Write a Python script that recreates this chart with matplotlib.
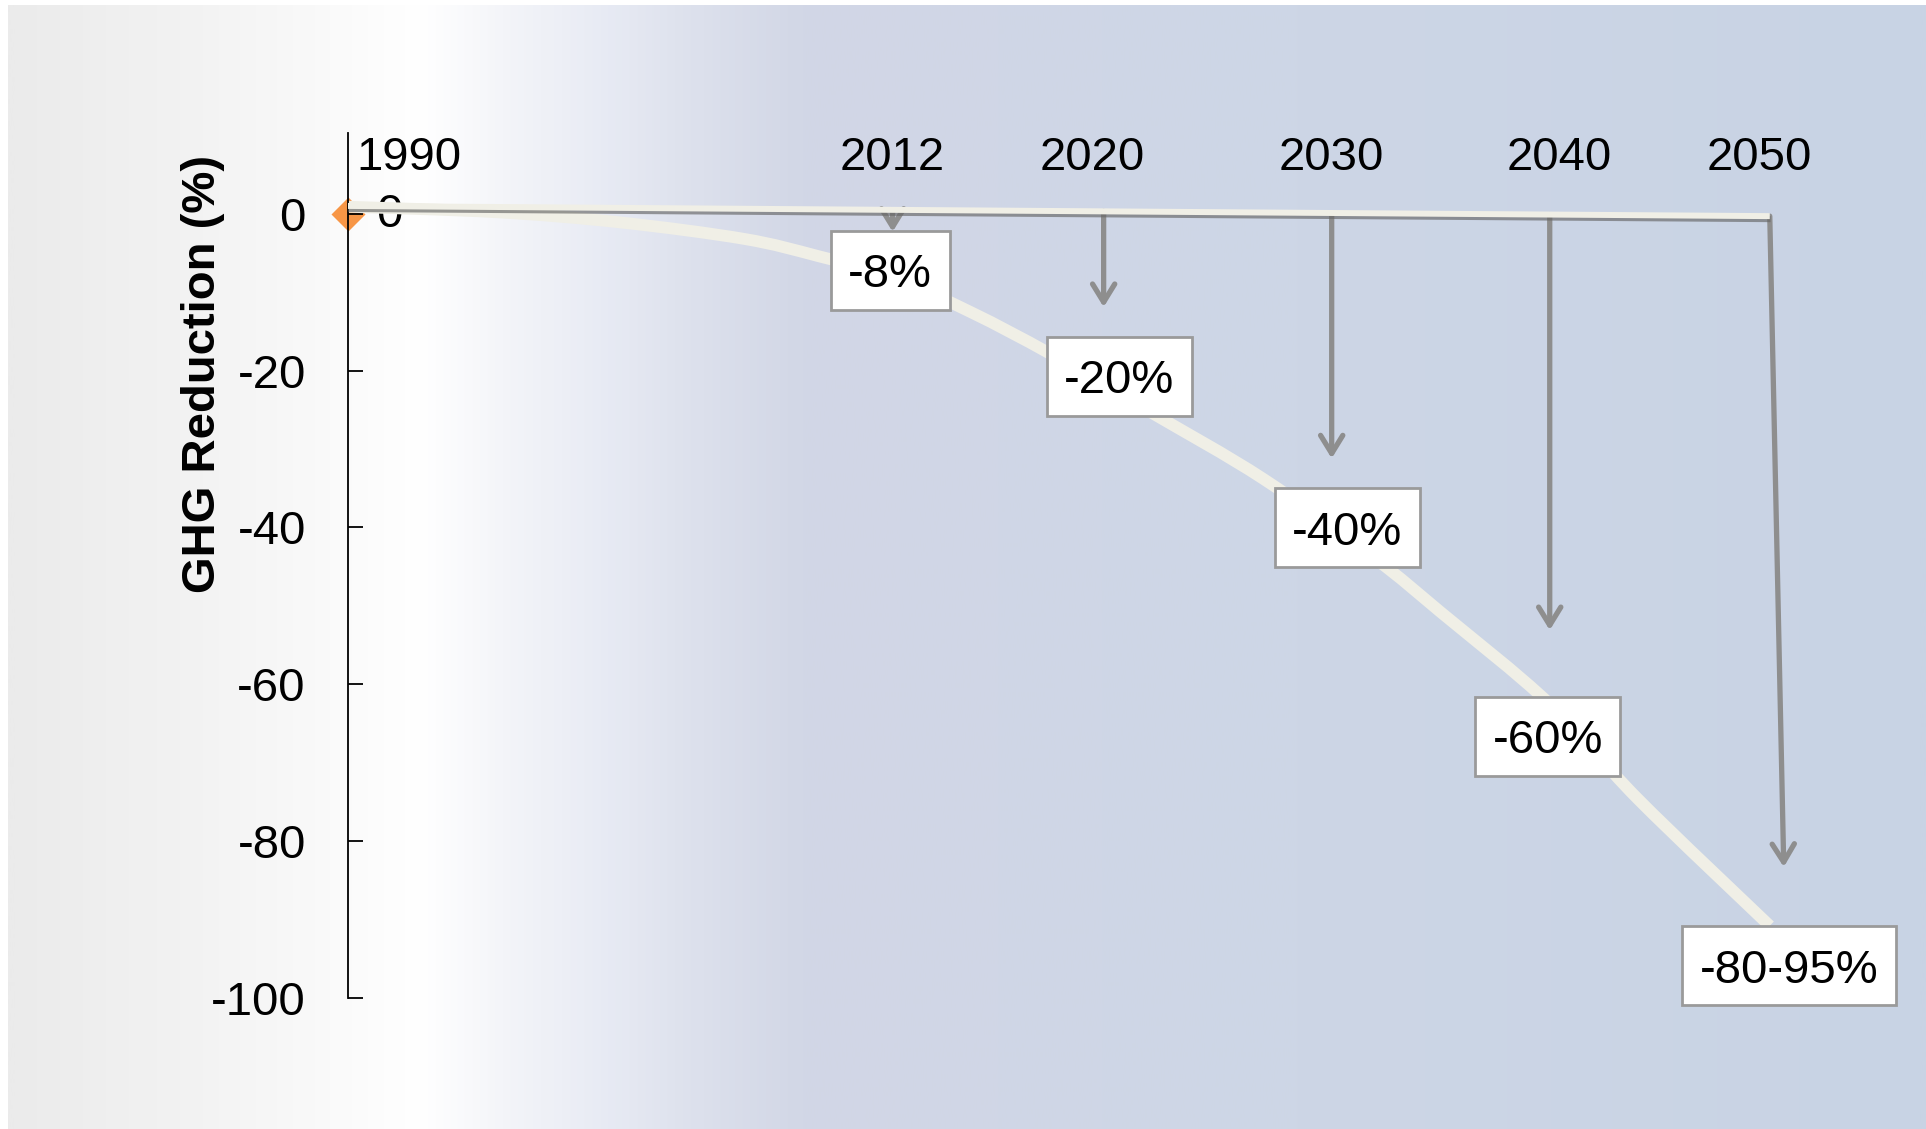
import numpy as np
import matplotlib
matplotlib.use("Agg")
import matplotlib.pyplot as plt
import matplotlib.patheffects as pe
from matplotlib.colors import LinearSegmentedColormap
from matplotlib.patches import PathPatch, Rectangle
from matplotlib.path import Path
from matplotlib.transforms import offset_copy

plt.rcParams["font.family"] = ["Liberation Sans", "DejaVu Sans"]
plt.rcParams["axes.unicode_minus"] = False

# --- data ---
years = [1990, 2012, 2020, 2030, 2040, 2050]
target_vals = [-8, -20, -40, -60, -95]
target_labels = ["-8%", "-20%", "-40%", "-60%", "-80-95%"]
arrow_tips = [-2.3, -11.9, -31.2, -53.1, -83.3]
baseline_vals = [1.0, -0.3]          # zero line at 1990 and 2050

curve_years = [1990, 1996, 2001, 2006, 2009, 2012, 2015, 2018, 2022, 2027,
               2032, 2035, 2040, 2044, 2050]
curve_vals = [0.9, 0.2, -1.1, -3.2, -5.4, -8.1, -12.6, -17.9, -25.2, -33.8,
              -44.0, -50.8, -62.5, -74.6, -90.8]

yticks = [0, -20, -40, -60, -80, -100]

# --- layout / style ---
W, H = 1926, 1129
CREAM = "#f0efe6"
GREY = "#8e8e8e"
ORANGE = "#f79646"
FS = 34

# uneven spacing of the years along the slide (pixels from the y axis)
YEAR_ANCHORS = [1990, 2012, 2020, 2030, 2040, 2050, 2100]
POS_ANCHORS = [0, 545, 756, 984, 1202, 1422, 2522]


def fwd(x):
    return np.interp(x, YEAR_ANCHORS, POS_ANCHORS)


def inv(p):
    return np.interp(p, POS_ANCHORS, YEAR_ANCHORS)


def smooth_path(xs, ys):
    """Smoothed-line path (Catmull-Rom as cubic Beziers) through the points,
    built in scaled x space so it looks like a spreadsheet 'smooth line'."""
    px = fwd(np.asarray(xs, float))
    py = np.asarray(ys, float) * 7.833   # value -> pixels, keeps the aspect right
    verts = [(px[0], py[0])]
    codes = [Path.MOVETO]
    n = len(px)
    for i in range(n - 1):
        p0 = (px[max(i - 1, 0)], py[max(i - 1, 0)])
        p1 = (px[i], py[i])
        p2 = (px[i + 1], py[i + 1])
        p3 = (px[min(i + 2, n - 1)], py[min(i + 2, n - 1)])
        c1 = (p1[0] + (p2[0] - p0[0]) / 6, p1[1] + (p2[1] - p0[1]) / 6)
        c2 = (p2[0] - (p3[0] - p1[0]) / 6, p2[1] - (p3[1] - p1[1]) / 6)
        verts += [c1, c2, p2]
        codes += [Path.CURVE4] * 3
    verts = [(float(inv(vx)), vy / 7.833) for vx, vy in verts]
    return Path(verts, codes)


fig = plt.figure(figsize=(W / 100, H / 100), dpi=100)
fig.patch.set_facecolor("white")

# background gradient (grey -> white -> pale blue)
bg = fig.add_axes([8 / W, 0, 1 - 8 / W, 1 - 5 / H], zorder=0)
stops_px = [8, 200, 420, 500, 600, 700, 800, 1300, 1926]
stops_col = ["#ebebeb", "#f3f3f3", "#ffffff", "#f4f5f9", "#e8ebf4",
             "#dce0ec", "#d2d7e6", "#cdd6e6", "#c8d3e4"]
stops = [(p - 8) / (W - 8) for p in stops_px]
cmap = LinearSegmentedColormap.from_list("bg", list(zip(stops, stops_col)))
bg.imshow(np.linspace(0, 1, 1024)[None, :], aspect="auto", cmap=cmap,
          extent=[0, 1, 0, 1], interpolation="bilinear")
bg.axis("off")

ax = fig.add_axes([347.5 / W, 1 - 998 / H, 1 - 347.5 / W, (998 - 133) / H], zorder=1)
ax.patch.set_alpha(0)
ax.set_xscale("function", functions=(fwd, inv))
ax.set_xlim(1990, 2057.1)
ax.set_ylim(-100, 10.3)
for s in ["top", "right", "bottom"]:
    ax.spines[s].set_visible(False)
ax.spines["left"].set_linewidth(1.3)
ax.set_xticks([])
ax.set_yticks(yticks)
ax.tick_params(axis="y", direction="in", length=11, width=1.3, pad=30, labelsize=FS)

# reduction curve (smoothed line)
ax.add_patch(PathPatch(smooth_path(curve_years, curve_vals), fc="none", ec=CREAM,
                       lw=8.5, capstyle="butt", joinstyle="round", zorder=2))

# 1990 point and its label
ax.plot(years[0], 0, marker="D", ms=17, color=ORANGE, mec="none", zorder=1.5, clip_on=False)
ax.annotate("0", xy=(years[0], 0), xytext=(42, -1), textcoords="offset pixels",
            ha="center", va="center", fontsize=FS, zorder=1.6)

# zero line with shadow
ax.plot([years[0], years[-1]], baseline_vals, color=CREAM, lw=4.3, zorder=4,
        solid_capstyle="butt",
        path_effects=[pe.SimpleLineShadow(offset=(0.6, -2.2), shadow_color="#666666", alpha=0.65),
                      pe.Normal()])


def base_at(yr):
    return np.interp(fwd(yr), [fwd(years[0]), fwd(years[-1])], baseline_vals)


# arrows down from the zero line
arrow_dx = [0, 0, 0, 0, 14]
for yr, tip, dx in zip(years[1:], arrow_tips, arrow_dx):
    ax.annotate("", xy=(yr, tip),
                xycoords=offset_copy(ax.transData, fig=fig, x=dx, y=0, units="dots"),
                xytext=(yr, base_at(yr)), textcoords="data",
                arrowprops=dict(arrowstyle="->,head_length=0.65,head_width=0.4",
                                color=GREY, lw=3.8, shrinkA=0, shrinkB=0,
                                mutation_scale=20, capstyle="round", joinstyle="round"),
                zorder=3)

# target labels (text first, boxes sized from the rendered text below)
label_offsets = [(-2.5, 6.4), (15.5, -5.6), (15.5, -0.5), (-2, -52), (19, -7)]
box_texts = []
for yr, tv, lab, (dx, dy) in zip(years[1:], target_vals, target_labels, label_offsets):
    t = ax.annotate(lab, xy=(yr, tv), xytext=(dx, dy - 5), textcoords="offset pixels",
                    ha="center", va="center", fontsize=FS, zorder=6.5)
    box_texts.append(t)

# year labels along the top
year_dx = [9, 0, -11, 0, 10, -10]
for yr, dx in zip(years, year_dx):
    ax.annotate(str(yr), xy=(yr, 0), xytext=(dx, 56), textcoords="offset pixels",
                ha="left" if yr == years[0] else "center", va="center",
                fontsize=FS, annotation_clip=False, zorder=7)

fig.text(203 / W, 1 - 373.5 / H, "GHG Reduction (%)", rotation=90, ha="center",
         va="center", fontsize=FS, fontweight="bold")

# white boxes around the target labels
fig.canvas.draw()
renderer = fig.canvas.get_renderer()
to_axes = ax.transAxes.inverted()
PAD = 17.5   # px
for t in box_texts:
    bb = t.get_window_extent(renderer)
    (x0, y0), (x1, y1) = to_axes.transform([(bb.x0 - PAD, bb.y0 - PAD + 5),
                                            (bb.x1 + PAD, bb.y1 + PAD + 5)])
    ax.add_patch(Rectangle((x0, y0), x1 - x0, y1 - y0, transform=ax.transAxes,
                           fc="white", ec="#9a9a9a", lw=2, zorder=6, clip_on=False))

fig.savefig("out.png", dpi=100, facecolor=fig.get_facecolor())
